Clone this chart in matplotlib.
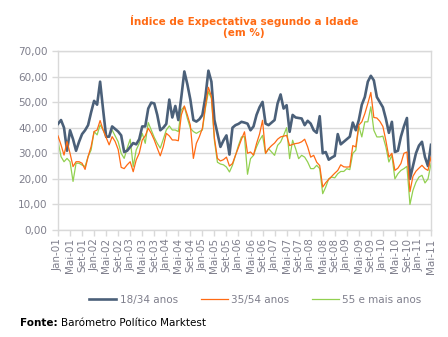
from matplotlib import pyplot

# meses (Jan-01 .. Mai-11)
meses = ["Jan", "Fev", "Mar", "Abr", "Mai", "Jun", "Jul", "Ago", "Set", "Out", "Nov", "Dez"]
anos = ["01", "02", "03", "04", "05", "06", "07", "08", "09", "10", "11"]

jovens = [  # 18/34 anos
    41.5, 43.0, 40.0, 31.0, 39.0, 35.5, 31.0, 34.5, 37.5, 39.0,
    41.0, 46.0, 50.5, 49.0, 58.0, 47.0, 36.5, 36.5, 40.5, 39.5,
    38.5, 37.0, 30.5, 31.0, 32.5, 34.0, 33.5, 35.5, 40.5, 40.5,
    47.5, 49.8, 49.5, 45.0, 39.0, 40.0, 41.5, 51.0, 44.0, 48.5,
    43.0, 52.0, 62.0, 57.0, 51.0, 43.0, 42.4, 43.3, 45.0, 52.0,
    62.3, 58.0, 43.0, 37.8, 32.5, 35.0, 37.0, 29.5, 40.0, 41.0,
    41.5, 42.3, 42.0, 41.6, 39.0, 40.5, 45.0, 48.0, 50.1, 41.6,
    41.0, 42.0, 43.0, 49.5, 53.0, 47.5, 48.8, 38.4, 45.0, 44.0,
    43.8, 43.6, 41.0, 42.7, 41.6, 39.0, 38.0, 44.5, 30.0, 30.5,
    27.5, 28.3, 29.0, 37.5, 33.5, 34.5, 35.5, 36.5, 42.0, 39.0,
    43.0, 49.0, 52.0, 58.0, 60.3, 58.5, 52.0, 50.0, 48.0, 43.5,
    38.0, 42.3, 30.5, 31.0, 36.5, 40.5, 43.8, 20.0, 25.0, 30.0,
    33.0, 34.5, 28.5, 25.0, 33.3,
]

adultos = [  # 35/54 anos
    36.8, 33.3, 29.3, 34.6, 30.0, 24.8, 26.7, 26.7, 26.1, 23.7,
    28.7, 32.6, 38.5, 39.1, 42.8, 39.1, 36.2, 33.3, 36.5, 34.6,
    31.5, 24.5, 24.0, 25.5, 26.7, 22.8, 27.4, 30.0, 35.2, 36.8,
    39.8, 37.8, 35.2, 32.0, 29.0, 32.6, 37.8, 36.8, 35.2, 35.2,
    34.9, 45.0, 48.5, 45.0, 41.0, 28.0, 33.9, 36.5, 39.8, 48.3,
    55.8, 52.2, 35.9, 28.0, 27.0, 27.5, 28.5, 25.0, 26.0, 29.2,
    32.3, 35.5, 38.4, 30.0, 30.5, 29.3, 33.8, 37.5, 42.9, 30.0,
    31.8, 33.0, 34.0, 35.5, 36.4, 36.7, 37.0, 33.0, 33.5, 33.8,
    34.0, 34.5, 35.5, 32.5, 28.5, 29.2, 26.5, 25.2, 16.8, 18.5,
    19.8, 21.0, 22.2, 23.3, 25.5, 24.7, 24.6, 24.7, 33.0, 32.5,
    41.0, 42.3, 45.5, 49.5, 53.8, 44.0, 43.8, 42.5, 40.5, 35.0,
    28.5, 30.0, 23.3, 24.2, 26.0, 30.0, 30.5, 15.0, 21.0, 23.0,
    24.2, 25.3, 24.0, 23.3, 28.5,
]

seniores = [  # 55 e mais anos
    34.9, 28.7, 26.7, 28.0, 26.7, 19.0, 26.1, 26.1, 25.4, 24.8,
    28.7, 31.3, 38.5, 37.2, 41.1, 39.1, 36.2, 36.8, 39.1, 36.8,
    34.5, 30.0, 28.0, 32.0, 35.5, 24.8, 31.3, 33.9, 37.8, 33.9,
    42.0, 39.1, 36.2, 33.9, 32.0, 35.5, 39.1, 40.7, 39.1, 39.1,
    38.5, 47.0, 48.3, 43.7, 39.8, 38.5, 37.8, 38.5, 39.1, 47.6,
    54.1, 51.5, 35.0, 26.5, 25.8, 25.5, 24.6, 22.7, 25.3, 29.2,
    33.1, 36.4, 36.5, 21.8, 27.9, 29.2, 32.5, 35.1, 37.0, 29.9,
    31.8, 30.5, 29.2, 33.1, 34.4, 37.0, 40.0, 27.9, 35.1, 31.8,
    27.9, 29.2, 28.5, 26.6, 24.0, 24.0, 25.3, 24.0, 14.2, 16.8,
    20.0, 20.7, 20.4, 22.0, 22.9, 22.9, 24.0, 23.6, 30.0, 31.2,
    40.6, 36.4, 42.3, 42.3, 48.2, 39.0, 36.4, 36.4, 36.7, 32.5,
    26.6, 29.2, 20.0, 22.0, 23.3, 24.0, 24.9, 10.0, 15.5, 18.7,
    20.7, 21.4, 18.4, 20.0, 25.9,
]

rotulos = [m + "-" + a for a in anos for m in meses][:len(jovens)]

cinza = "#d9d9d9"
texto = "#7f7f8c"

fig = pyplot.figure(figsize=(4.48, 3.37), dpi=100)
ax = fig.add_axes([58 / 448, 1 - 230 / 337, 373 / 448, 179 / 337])

x = list(range(len(jovens)))
ax.plot(x, jovens, color="#4b6079", lw=1.9, label="18/34 anos", zorder=3)
ax.plot(x, adultos, color="#ff6a13", lw=0.9, label="35/54 anos", zorder=4)
ax.plot(x, seniores, color="#92d050", lw=0.9, label="55 e mais anos", zorder=2)

ax.set_xlim(0, len(jovens) - 1)
ax.set_ylim(0, 70)
ax.set_yticks(range(0, 71, 10))
ax.set_yticklabels(["%d,00" % v for v in range(0, 71, 10)])
ax.set_xticks(x[::4])
ax.set_xticklabels(rotulos[::4], rotation=90)
ax.tick_params(axis="both", colors=cinza, labelcolor=texto, labelsize=7.5, length=4, width=1)
ax.tick_params(axis="x", pad=2)
ax.grid(axis="y", color=cinza, lw=1)
ax.set_axisbelow(True)
for lado in ax.spines.values():
    lado.set_color(cinza)
    lado.set_linewidth(1)

fig.text(0.545, 0.955, "Índice de Expectativa segundo a Idade\n(em %)", color="#ff6a13",
         fontsize=7.5, fontweight="bold", ha="center", va="top", linespacing=1.1)

leg = fig.legend(loc="center", bbox_to_anchor=(0.57, 1 - 300 / 337), ncol=3, frameon=False,
                 fontsize=7.5, handlelength=2.6, handletextpad=0.3, columnspacing=2.2)
for t in leg.get_texts():
    t.set_color(texto)

fig.text(20 / 448, 1 - 323 / 337, "Fonte:", fontsize=7.5, fontweight="bold", va="center")
fig.text(61 / 448, 1 - 323 / 337, "Barómetro Político Marktest", fontsize=7.5, va="center")

fig.savefig("out.png", dpi=100)
